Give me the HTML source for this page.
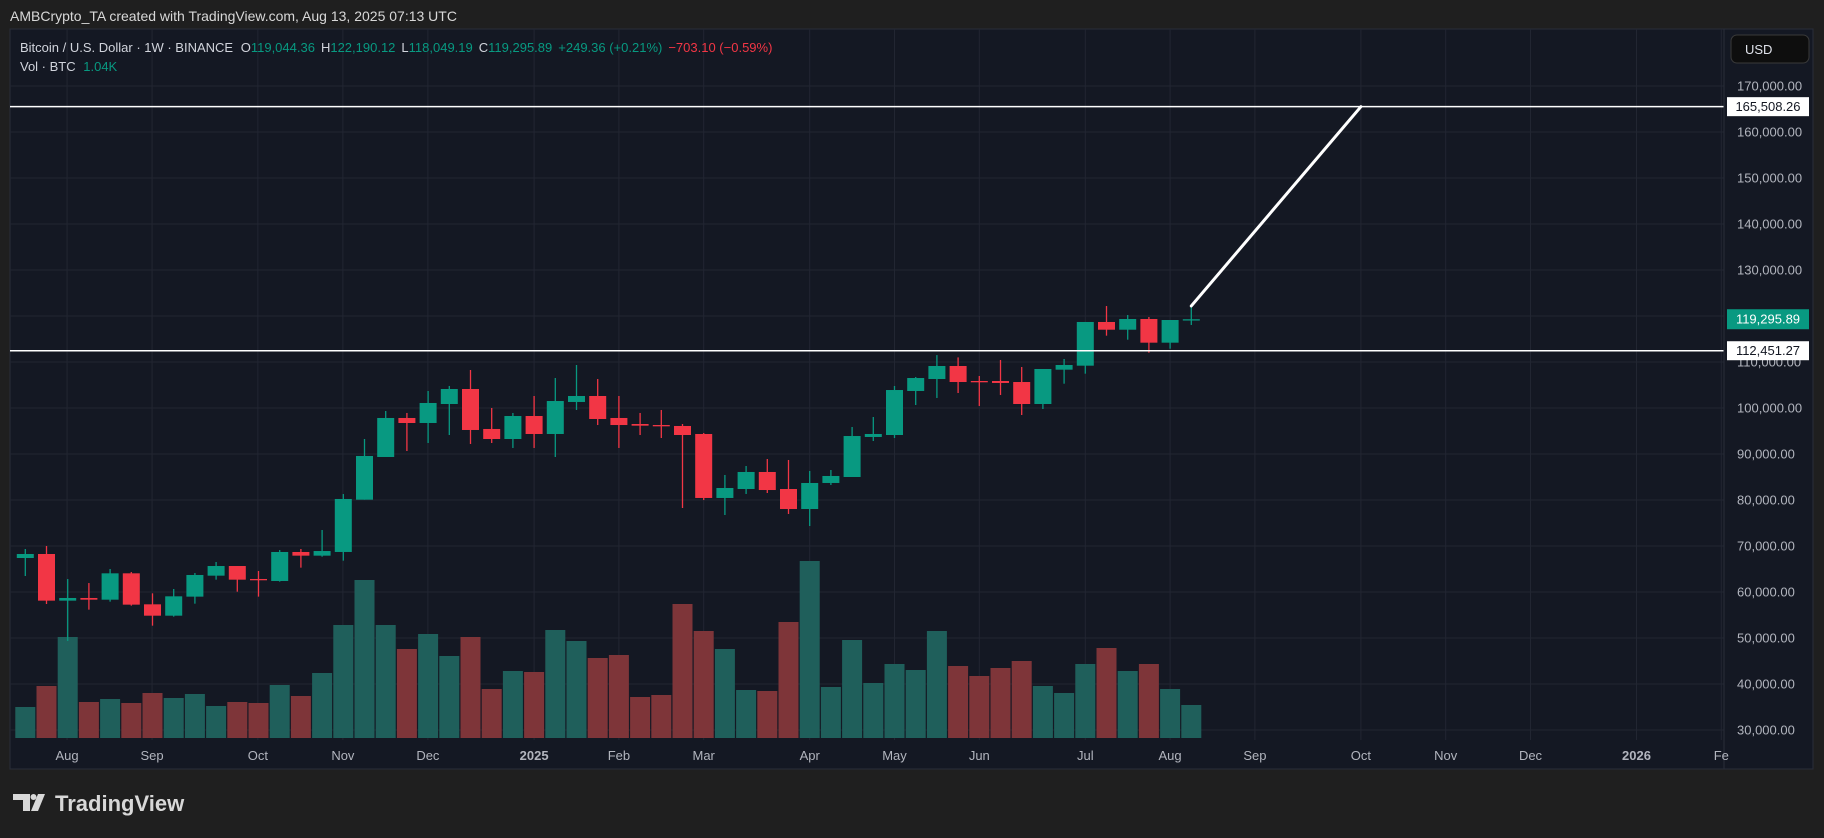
<!DOCTYPE html>
<html><head><meta charset="utf-8">
<style>
html,body{margin:0;padding:0;background:#1f1f1f;}
svg{display:block;font-family:"Liberation Sans",sans-serif;}
</style></head>
<body>
<svg id="chart" width="1824" height="838" viewBox="0 0 1824 838" xmlns="http://www.w3.org/2000/svg">
  <rect x="0" y="0" width="1824" height="838" fill="#1f1f1f"/>
  <text x="10" y="21" font-size="14" fill="#d8d8d8">AMBCrypto_TA created with TradingView.com, Aug 13, 2025 07:13 UTC</text>
  <rect x="10" y="29" width="1803" height="740" fill="#141823" stroke="#2a2e39" stroke-width="1"/>
  <g id="grid"></g>
  <g id="volume"></g>
  <g id="candles"></g>
  <g id="drawings"></g>
  <line x1="1724" y1="29" x2="1724" y2="769" stroke="#2a2e39" stroke-width="1"/>
  <g id="yaxis"></g>
  <g id="xaxis"></g>
  <g>
    <text x="20" y="52" font-size="13" fill="#d1d4dc">Bitcoin / U.S. Dollar · 1W · BINANCE <tspan dx="4">O</tspan><tspan fill="#089981">119,044.36</tspan><tspan dx="6">H</tspan><tspan fill="#089981">122,190.12</tspan><tspan dx="6">L</tspan><tspan fill="#089981">118,049.19</tspan><tspan dx="6">C</tspan><tspan fill="#089981">119,295.89</tspan><tspan dx="6" fill="#089981">+249.36 (+0.21%)</tspan><tspan dx="6" fill="#f23645">−703.10 (−0.59%)</tspan></text>
    <text x="20" y="71" font-size="13" fill="#d1d4dc">Vol · BTC <tspan dx="4" fill="#089981">1.04K</tspan></text>
  </g>
  <g>
    <rect x="1731" y="35" width="78" height="28" rx="6" fill="#0e0e0e" stroke="#3a3a3a"/>
    <text x="1745" y="54" font-size="13" fill="#e0e3eb">USD</text>
  </g>
  <g>
    <polygon points="13,794 30,794 30,811 23,811 23,800 13,800" fill="#d8d8d8"/>
    <circle cx="33.5" cy="797" r="3" fill="#d8d8d8"/>
    <polygon points="38,794 45,794 38,811 31,811" fill="#d8d8d8"/>
    <text x="55" y="811" font-size="22" font-weight="bold" fill="#d8d8d8">TradingView</text>
  </g>
</svg>
<script>
const opens  = [67390,68260,58120,58700,58330,64060,57320,54850,58990,63550,65650,62830,62390,68700,67900,68700,80070,89350,97830,96740,100870,104130,95440,93260,98260,94350,101310,102610,97830,96520,96300,96090,94350,80440,82390,86090,82390,78040,83700,85000,93700,94130,103700,106300,109130,105870,105870,105650,100870,108330,109200,118700,117020,119350,114200,119044];
const highs  = [69350,70000,62820,61950,65000,64350,59710,60650,64130,66520,65650,64570,69130,69350,73480,81300,93260,99350,98920,103700,104790,108260,100000,98920,102610,106520,109350,106300,102610,98920,99570,96520,94570,85440,87390,88910,88700,86310,86520,95870,98040,104790,106740,111500,111000,106960,110440,108910,108480,110650,118700,122170,120220,119780,119130,122190];
const lows   = [63480,57390,49350,56160,57900,57030,52680,54640,57460,62680,60070,58990,62250,65290,67680,66810,80070,89350,90650,92390,94130,92180,92390,91310,91310,89350,99570,96300,91310,94130,93480,78260,79990,76740,81310,81520,76960,74350,83260,85000,92830,93480,100650,102180,103260,100440,102830,98480,99780,105280,107460,115720,114850,112020,112890,118049];
const closes = [68260,58120,58700,58330,64060,57250,54850,59060,63700,65650,62680,62680,68700,67900,68910,80220,89570,97830,96740,101090,104130,95220,93260,98260,94350,101520,102610,97610,96300,96160,96160,94130,80440,82610,86090,82170,78040,83700,85220,93910,94350,103910,106520,109130,105650,105650,105440,100870,108480,109350,118700,117020,119350,114200,119130,119296];
const volumes = [31,52,101,36,39,35,45,40,44,32,36,35,53,42,65,113,158,113,89,104,82,101,49,67,66,108,97,80,83,41,43,134,107,89,48,47,116,177,51,98,55,74,68,107,72,62,70,77,52,45,74,90,67,74,49,33];
const priceTicks = [30000,40000,50000,60000,70000,80000,90000,100000,110000,120000,130000,140000,150000,160000,170000];
const timeLabels = ["Aug","Sep","Oct","Nov","Dec","2025","Feb","Mar","Apr","May","Jun","Jul","Aug","Sep","Oct","Nov","Dec","2026","Fe"];
const timeLabelWeeks = [1.97,5.98,10.97,14.98,18.99,24,28,32,37,41,45,50,54,58,63,67,71,76,80];
const levels = [165508.26,112451.27];
const trendEndWeek = 63;
const lastPrice = 119295.89;

const NS = "http://www.w3.org/2000/svg";
function yP(p){ return 730 - (p - 30000) * 0.0046; }
function xW(i){ return 25.3 + i * 21.2; }
function yV(v){ return 738 - v * 1.0; }
function fmt(n){ return n.toLocaleString("en-US",{minimumFractionDigits:2,maximumFractionDigits:2}); }
function mk(tag, attrs, parent){
  const e = document.createElementNS(NS, tag);
  for (const k in attrs) e.setAttribute(k, attrs[k]);
  parent.appendChild(e);
  return e;
}
const G = id => document.getElementById(id);
const green = "#089981", red = "#f23645";

// grid
priceTicks.forEach(p => {
  const l = mk("line",{x1:10,x2:1724,y1:yP(p),y2:yP(p),stroke:"#222632","stroke-width":1},G("grid"));
  
  
  const t = mk("text",{x:1737,y:yP(p)+4.5,"font-size":13,fill:"#b2b5be"},G("yaxis"));
  t.textContent = fmt(p);
  
  
});
timeLabelWeeks.forEach((w,i) => {
  const x = xW(w);
  const l = mk("line",{x1:x,x2:x,y1:29,y2:740,stroke:"#222632","stroke-width":1},G("grid"));
  
  
  const bold = /^\d{4}$/.test(timeLabels[i]);
  const t = mk("text",{x:x,y:760,"font-size":13,fill:"#b2b5be","text-anchor":"middle","font-weight":bold?"bold":"normal"},G("xaxis"));
  t.textContent = timeLabels[i];
  
  
});

// volume
volumes.forEach((v,i) => {
  const up = closes[i] >= opens[i];
  const r = mk("rect",{x:xW(i)-10,y:yV(v),width:20,height:738-yV(v),fill:up?"#1f5f5b":"#7e3539"},G("volume"));
  
  
});

// candles
opens.forEach((o,i) => {
  const c = closes[i], up = c >= o, col = up ? green : red, x = xW(i);
  const w = mk("line",{x1:x,x2:x,y1:yP(highs[i]),y2:yP(lows[i]),stroke:col,"stroke-width":1.3},G("candles"));
  
  
  const top = Math.min(yP(o),yP(c)), h = Math.max(1.3,Math.abs(yP(o)-yP(c)));
  const b = mk("rect",{x:x-8.5,y:top,width:17,height:h,fill:col},G("candles"));
  
  
});

// horizontal levels
levels.forEach(p => {
  const l = mk("line",{x1:10,x2:1724,y1:yP(p),y2:yP(p),stroke:"#ffffff","stroke-width":1.5},G("drawings"));
  
  
  const r = mk("rect",{x:1727,y:yP(p)-9.5,width:82,height:19,fill:"#ffffff"},G("yaxis"));
  
  
  const t = mk("text",{x:1768,y:yP(p)+4.5,"font-size":13,fill:"#131722","text-anchor":"middle"},G("yaxis"));
  t.textContent = fmt(p);
  
  
});
// trend line from last high to target level
const last = opens.length - 1;
const tl = mk("line",{x1:xW(last),y1:yP(highs[last]),x2:xW(trendEndWeek),y2:yP(levels[0]),stroke:"#ffffff","stroke-width":3,"stroke-linecap":"round"},G("drawings"));



// last price label
const lr = mk("rect",{x:1727,y:yP(lastPrice)-10,width:82,height:20,fill:green},G("yaxis"));


const lt = mk("text",{x:1768,y:yP(lastPrice)+4.5,"font-size":13,fill:"#ffffff","text-anchor":"middle"},G("yaxis"));
lt.textContent = fmt(lastPrice);


</script>
</body></html>
